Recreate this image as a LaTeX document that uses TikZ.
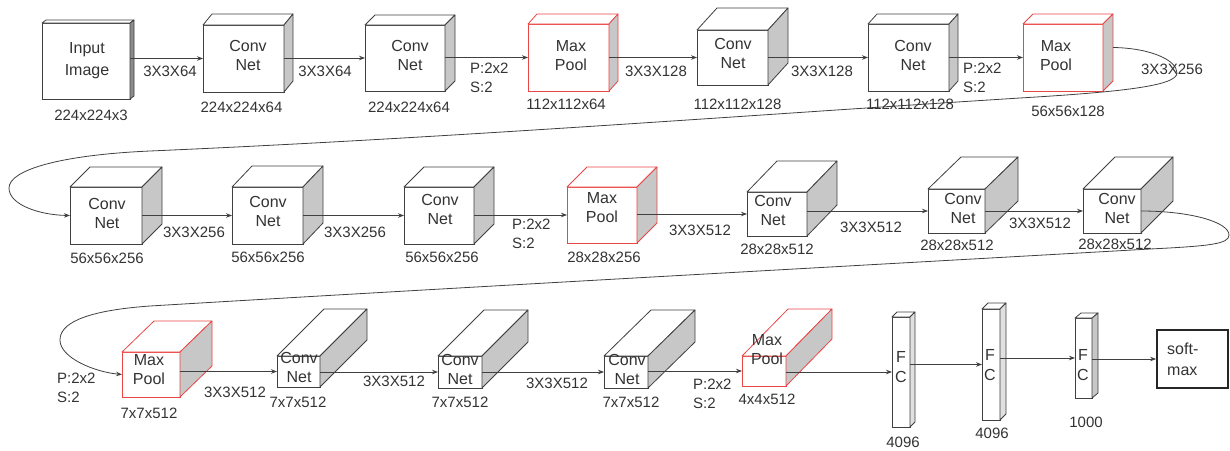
\documentclass[tikz,border=0pt]{standalone}
\usepackage{fontspec}
\setmainfont{Liberation Sans}
\usetikzlibrary{arrows.meta,calc}
\definecolor{lc}{gray}{0.25}
\definecolor{tc}{gray}{0.2}
\definecolor{rd}{RGB}{235,70,70}
\definecolor{sidegray}{gray}{0.78}
\definecolor{fcgray}{gray}{0.88}
\newcommand{\vggblock}[9]{%
  \node[face,#2,minimum width={#5-#3},minimum height={#6-#4}] (#1) at ({(#3+#5)/2},{(#4+#6)/2}) {};
  \draw[#2,fill=white,line join=round] (#1.north west) -- ++(#7,-#8) -- ++({#5-#3},0) -- (#1.north east) -- cycle;
  \draw[#2,fill=#9,line join=round] (#1.north east) -- ++(#7,-#8) -- ++(0,{#6-#4}) -- (#1.south east) -- cycle;
  \coordinate (#1-b) at ([shift={(#7,-#8)}]#1.east);
}
\begin{document}
\begin{tikzpicture}[x=1pt,y=-1pt,
  face/.style={fill=white,inner sep=0pt,outer sep=0pt},
  cv/.style={draw=lc,line width=0.8pt},
  mp/.style={draw=rd,line width=0.8pt},
  arr/.style={draw=lc,line width=0.8pt,-{Stealth[length=6pt,width=4.5pt]}},
  txt/.style={text=tc,font=\fontsize{16}{19}\selectfont,align=center,inner sep=0pt},
  lab/.style={text=tc,font=\fontsize{15}{18}\selectfont,inner sep=0pt},
  ps/.style={text=tc,font=\fontsize{15}{19}\selectfont,align=left,inner sep=0pt,anchor=west}]
\useasboundingbox (0,0) rectangle (1230,450);
% ---------- blocks ----------
\vggblock{in}{cv}{42}{23}{130}{99}{4}{3}{black!45}
\vggblock{c1}{cv}{203}{25}{284}{92}{9}{11}{sidegray}
\vggblock{c2}{cv}{365}{25}{445}{91}{10}{10}{sidegray}
\vggblock{m1}{mp}{528}{24}{609}{91}{9}{10}{sidegray}
\vggblock{c3}{cv}{697}{30}{768}{85}{20}{22}{sidegray}
\vggblock{c4}{cv}{868}{24}{949}{91}{9}{10}{sidegray}
\vggblock{m2}{mp}{1023}{24}{1103}{91}{10}{10}{sidegray}
\vggblock{c5}{cv}{70}{187}{142}{244}{20}{20}{sidegray}
\vggblock{c6}{cv}{232}{187}{303}{244}{20}{21}{sidegray}
\vggblock{c7}{cv}{404}{187}{474}{244}{20}{20}{sidegray}
\vggblock{m3}{mp}{567}{187}{637}{243}{20}{20}{sidegray}
\vggblock{c8}{cv}{747}{192}{807}{236}{30}{31}{sidegray}
\vggblock{c9}{cv}{928}{189}{985}{233}{33}{32}{sidegray}
\vggblock{c10}{cv}{1083}{189}{1141}{233}{32}{32}{sidegray}
\vggblock{m4}{mp}{122}{352}{180}{397}{32}{31}{sidegray}
\vggblock{c11}{cv}{277}{356}{320}{387}{47}{47}{sidegray}
\vggblock{c12}{cv}{438}{356}{482}{388}{46}{46}{sidegray}
\vggblock{c13}{cv}{604}{356}{648}{388}{47}{46}{sidegray}
\vggblock{m5}{mp}{742}{356}{786}{386}{46}{47}{sidegray}
\vggblock{f1}{cv}{892}{317}{910}{427}{5}{5}{fcgray}
\vggblock{f2}{cv}{982}{309}{1000}{420}{6}{6}{fcgray}
\vggblock{f3}{cv}{1075}{318}{1092}{398}{6}{5}{sidegray}
\node[draw=black!85,line width=1.8pt,inner sep=0pt,minimum width=71,minimum height=58] (sm) at (1192.5,359) {};
% ---------- connectors ----------
\draw[arr] (in.east |- c1.west) -- (c1.west);
\draw[arr] (c1.east |- c2.west) -- (c2.west);
\draw[arr] (c2.east |- m1.west) -- (m1.west);
\draw[arr] (m1.east |- c3.west) -- (c3.west);
\draw[arr] (c3.east |- c4.west) -- (c4.west);
\draw[arr] (c4.east |- m2.west) -- (m2.west);
\draw[arr] (m2-b) .. controls (1150,48) and (1177,60) .. (1177,73)
  .. controls (1177,86) and (1120,92) .. (1020,98)
  .. controls (750,115) and (450,138) .. (150,151)
  .. controls (60,155) and (9,170) .. (9,188)
  .. controls (9,205) and (40,215) .. (c5.west);
\draw[arr] (c5.east |- c6.west) -- (c6.west);
\draw[arr] (c6.east |- c7.west) -- (c7.west);
\draw[arr] (c7.east |- m3.west) -- (m3.west);
\draw[arr] (m3.east |- c8.west) -- (c8.west);
\draw[arr] (c8.east |- c9.west) -- (c9.west);
\draw[arr] (c9.east |- c10.west) -- (c10.west);
\draw[arr] (c10.east) .. controls (1190,211) and (1229,222) .. (1229,235)
  .. controls (1229,244) and (1210,246) .. (1150,249)
  .. controls (850,266) and (450,288) .. (150,306)
  .. controls (80,311) and (60,325) .. (60,340)
  .. controls (60,358) and (95,372) .. (m4.west);
\draw[arr] (m4.east |- c11.west) -- (c11.west);
\draw[arr] (c11.east |- c12.west) -- (c12.west);
\draw[arr] (c12.east |- c13.west) -- (c13.west);
\draw[arr] (c13.east |- m5.west) -- (m5.west);
\draw[arr] (m5.east |- f1.west) -- (f1.west);
\draw[arr] (f1.east |- f2.west) -- (f2.west);
\draw[arr] (f2.east |- f3.west) -- (f3.west);
\draw[arr] (f3.east |- sm.west) -- (sm.west);
% ---------- block texts ----------
\node[txt,font=\fontsize{16}{22}\selectfont] (tin) at (87,61) {Input\\Image};
\node[txt] (t1) at (248,55.5) {Conv\\Net};
\node[txt] (t2) at (410,55.5) {Conv\\Net};
\node[txt] (tm1) at (571,55.5) {Max\\Pool};
\node[txt] (t3) at (733,53) {Conv\\Net};
\node[txt] (t4) at (913,55.5) {Conv\\Net};
\node[txt] (tm2) at (1056,55.5) {Max\\Pool};
\node[txt] (t5) at (107,213) {Conv\\Net};
\node[txt] (t6) at (268,211) {Conv\\Net};
\node[txt] (t7) at (440,209) {Conv\\Net};
\node[txt] (tm3) at (602,208) {Max\\Pool};
\node[txt] (t8) at (773,210) {Conv\\Net};
\node[txt] (t9) at (963,208.5) {Conv\\Net};
\node[txt] (t10) at (1117,208.5) {Conv\\Net};
\node[txt] (tm4) at (149,369.5) {Max\\Pool};
\node[txt] (t11) at (299,367.5) {Conv\\Net};
\node[txt] (t12) at (460,369) {Conv\\Net};
\node[txt] (t13) at (627,369) {Conv\\Net};
\node[txt] (tm5) at (767,350) {Max\\Pool};
\node[txt,font=\fontsize{16}{20}\selectfont] (tf1) at (901,367) {F\\C};
\node[txt,font=\fontsize{16}{20}\selectfont] (tf2) at (990,365) {F\\C};
\node[txt,font=\fontsize{16}{20}\selectfont] (tf3) at (1083,365) {F\\C};
\node[txt,align=left,anchor=west,font=\fontsize{16}{21}\selectfont] (tsm) at (1167,359.5) {soft-\\max};
% ---------- labels ----------
\node[lab] (l1) at (91,115) {224x224x3};
\node[lab] (l2) at (170,71) {3X3X64};
\node[lab] (l3) at (241.5,107) {224x224x64};
\node[lab] (l4) at (325,71) {3X3X64};
\node[lab] (l5) at (409,107) {224x224x64};
\node[ps] (l6) at (470,77.5) {P:2x2\\S:2};
\node[lab] (l7) at (566,104) {112x112x64};
\node[lab] (l8) at (656,71) {3X3X128};
\node[lab] (l9) at (737.5,104) {112x112x128};
\node[lab] (l10) at (822,71) {3X3X128};
\node[lab] (l11) at (910,104) {112x112x128};
\node[ps] (l12) at (963,77.5) {P:2x2\\S:2};
\node[lab] (l13) at (1068,111) {56x56x128};
\node[lab] (l14) at (1172,69) {3X3X256};
\node[lab] (l15) at (107,258) {56x56x256};
\node[lab] (l16) at (194,232) {3X3X256};
\node[lab] (l17) at (268,257) {56x56x256};
\node[lab] (l18) at (355,232) {3X3X256};
\node[lab] (l19) at (442,257) {56x56x256};
\node[ps] (l20) at (512,234) {P:2x2\\S:2};
\node[lab] (l21) at (604,257) {28x28x256};
\node[lab] (l22) at (700,230) {3X3X512};
\node[lab] (l23) at (777,249) {28x28x512};
\node[lab] (l24) at (871,227) {3X3X512};
\node[lab] (l25) at (957,245) {28x28x512};
\node[lab] (l26) at (1040,223) {3X3X512};
\node[lab] (l27) at (1115,244) {28x28x512};
\node[ps] (l28) at (57,387.5) {P:2x2\\S:2};
\node[lab] (l29) at (149,413) {7x7x512};
\node[lab] (l30) at (235,392) {3X3X512};
\node[lab] (l31) at (298,402) {7x7x512};
\node[lab] (l32) at (394,381) {3X3X512};
\node[lab] (l33) at (460,402) {7x7x512};
\node[lab] (l34) at (557,383) {3X3X512};
\node[lab] (l35) at (631,402) {7x7x512};
\node[ps] (l36) at (693,394) {P:2x2\\S:2};
\node[lab] (l37) at (767,399) {4x4x512};
\node[lab] (l38) at (903,442) {4096};
\node[lab] (l39) at (992,433) {4096};
\node[lab] (l40) at (1086,422) {1000};
\end{tikzpicture}
\end{document}
